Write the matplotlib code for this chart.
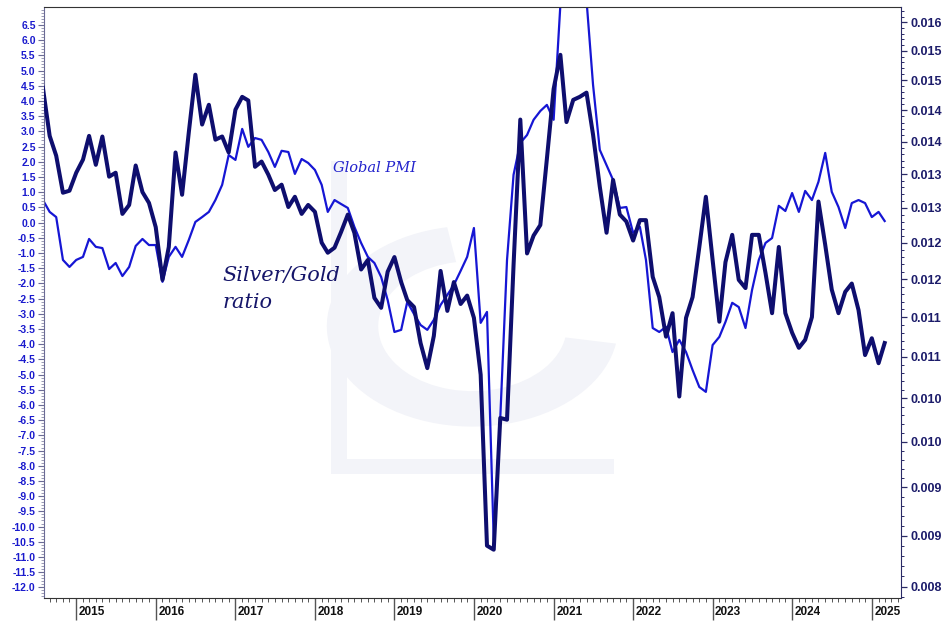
import matplotlib
matplotlib.use("Agg")
import matplotlib.pyplot as plt
import matplotlib.dates as mdates
import matplotlib.ticker as mticker
import matplotlib.transforms as mtransforms
import matplotlib.patches as mpatches
import numpy as np
import pandas as pd

plt.rcParams["font.family"] = ["Liberation Sans", "DejaVu Sans"]
plt.rcParams["font.weight"] = "bold"

# monthly observations, Aug 2014 .. Mar 2025
months = pd.date_range("2014-08-01", "2025-03-01", freq="MS")

global_pmi = [
    0.74, 0.35, 0.18, -1.23, -1.46, -1.23, -1.13, -0.54, -0.80, -0.84,
    -1.53, -1.33, -1.76, -1.46, -0.77, -0.54, -0.74, -0.74, -1.95, -1.13,
    -0.80, -1.13, -0.57, 0.02, 0.18, 0.35, 0.74, 1.24, 2.22, 2.06,
    3.08, 2.49, 2.78, 2.72, 2.32, 1.83, 2.36, 2.32, 1.60, 2.09,
    1.96, 1.73, 1.24, 0.35, 0.74, 0.61, 0.48, -0.14, -0.67, -1.13,
    -1.33, -1.79, -2.55, -3.60, -3.53, -2.61, -3.01, -3.37, -3.53, -3.20,
    -2.71, -2.38, -2.05, -1.59, -1.13, -0.18, -3.30, -2.94, -10.44, -6.43,
    -1.23, 1.57, 2.62, 2.88, 3.38, 3.67, 3.87, 3.38, 7.16, 8.31,
    8.80, 8.31, 7.32, 4.53, 2.39, 1.89, 1.40, 0.48, 0.51, -0.34,
    -0.14, -1.23, -3.47, -3.60, -3.43, -4.26, -3.86, -4.26, -4.85, -5.41,
    -5.57, -4.03, -3.76, -3.27, -2.64, -2.78, -3.47, -2.22, -1.23, -0.67,
    -0.51, 0.55, 0.38, 0.97, 0.35, 1.04, 0.74, 1.34, 2.29, 1.01,
    0.51, -0.18, 0.64, 0.74, 0.64, 0.18, 0.35, 0.05,
]

silver_gold = [
    0.01487, 0.01409, 0.01378, 0.01322, 0.01325, 0.01352, 0.01372, 0.01409, 0.01364, 0.01408,
    0.01346, 0.01352, 0.01291, 0.01304, 0.01363, 0.01323, 0.01307, 0.01272, 0.01199, 0.01244,
    0.01383, 0.01319, 0.01415, 0.01509, 0.01427, 0.01459, 0.01403, 0.01408, 0.01383, 0.01451,
    0.01472, 0.01466, 0.01361, 0.01369, 0.01349, 0.01326, 0.01334, 0.01301, 0.01316, 0.01291,
    0.01304, 0.01294, 0.01250, 0.01236, 0.01243, 0.01265, 0.01290, 0.01264, 0.01213, 0.01226,
    0.01175, 0.01162, 0.01210, 0.01230, 0.01196, 0.01172, 0.01163, 0.01117, 0.01086, 0.01126,
    0.01211, 0.01158, 0.01196, 0.01167, 0.01178, 0.01149, 0.01078, 0.00890, 0.00886, 0.01027,
    0.01025, 0.01219, 0.01435, 0.01235, 0.01260, 0.01275, 0.01373, 0.01485, 0.01543, 0.01431,
    0.01467, 0.01472, 0.01479, 0.01411, 0.01331, 0.01264, 0.01341, 0.01290, 0.01280, 0.01253,
    0.01282, 0.01282, 0.01203, 0.01176, 0.01125, 0.01155, 0.01052, 0.01149, 0.01176, 0.01244,
    0.01316, 0.01226, 0.01144, 0.01223, 0.01261, 0.01199, 0.01188, 0.01261, 0.01261, 0.01208,
    0.01155, 0.01244, 0.01155, 0.01130, 0.01111, 0.01121, 0.01150, 0.01309, 0.01247, 0.01186,
    0.01155, 0.01183, 0.01194, 0.01159, 0.01102, 0.01123, 0.01092, 0.01117,
]

years = list(range(2015, 2026))
year_labels = [str(y) for y in years]
left_ticks = np.arange(-12.0, 6.51, 0.5)
right_ticks = np.arange(0.0085, 0.01601, 0.0005)

fig = plt.figure(figsize=(9.49, 6.21), dpi=100)
ax = fig.add_axes([44 / 949, 23 / 621, 857 / 949, 591 / 621])
ax2 = ax.twinx()

# very faint logo watermark behind the lines
wm = "#f3f4f9"
ax.add_patch(mpatches.Wedge((0.50, 0.46), 0.17, 100, 350, width=0.06, transform=ax.transAxes,
                            facecolor=wm, edgecolor="none", zorder=0))
ax.add_patch(mpatches.Rectangle((0.335, 0.21), 0.018, 0.53, transform=ax.transAxes,
                                facecolor=wm, edgecolor="none", zorder=0))
ax.add_patch(mpatches.Rectangle((0.335, 0.21), 0.33, 0.025, transform=ax.transAxes,
                                facecolor=wm, edgecolor="none", zorder=0))

ax.plot(months, global_pmi, color="#1616d4", lw=1.6)
ax2.plot(months, silver_gold, color="#0e0e6e", lw=2.9)

ax.set_xlim(pd.Timestamp("2014-08-06"), pd.Timestamp("2025-05-15"))
ax.set_ylim(-12.35, 7.09)
ax2.set_yscale("log")
ax2.set_ylim(0.008393, 0.01628)

# left axis (PMI)
ax.yaxis.set_major_locator(mticker.FixedLocator(left_ticks))
ax.yaxis.set_major_formatter(mticker.FormatStrFormatter("%.1f"))
ax.yaxis.set_minor_locator(mticker.MultipleLocator(0.1))
ax.tick_params(axis="y", which="major", length=4.5, width=0.8, color="#6b6b95",
               labelsize=7.5, labelcolor="#1a1acd", pad=1.5)
ax.tick_params(axis="y", which="minor", length=2.2, width=0.6, color="#8a8aa8")

# right axis (silver/gold, log)
def trunc3(v, pos):
    return f"{np.floor(v * 1000 + 1e-6) / 1000:.3f}"

ax2.yaxis.set_major_locator(mticker.FixedLocator(right_ticks))
ax2.yaxis.set_major_formatter(mticker.FuncFormatter(trunc3))
ax2.yaxis.set_minor_locator(mticker.FixedLocator(np.arange(0.0084, 0.01625, 0.0001)))
ax2.yaxis.set_minor_formatter(mticker.NullFormatter())
ax2.tick_params(axis="y", which="major", length=4.5, width=0.9, color="#2a2a66",
                labelsize=9, labelcolor="#1c1c6a", pad=2)
ax2.tick_params(axis="y", which="minor", length=2.5, width=0.7, color="#2a2a66")

# x axis: long year ticks, monthly minor ticks, labels to the right of the tick
ax.xaxis.set_major_locator(mdates.YearLocator())
ax.xaxis.set_major_formatter(mticker.NullFormatter())
ax.xaxis.set_minor_locator(mdates.MonthLocator())
ax.tick_params(axis="x", which="major", length=16, width=1.0, color="#555555")
ax.tick_params(axis="x", which="minor", length=3, width=0.7, color="#555555")

lab_tr = mtransforms.offset_copy(ax.get_xaxis_transform(), fig=fig, x=2.5, y=-14, units="dots")
for y, lab in zip(years, year_labels):
    ax.text(pd.Timestamp(f"{y}-01-01"), 0, lab, transform=lab_tr, ha="left", va="center",
            fontsize=8.5, fontweight="bold", color="#111111")

for side in ["top", "bottom"]:
    ax.spines[side].set_color("#333333")
    ax2.spines[side].set_visible(False)
ax.spines["left"].set_color("#6b6b95")
ax2.spines["left"].set_visible(False)
ax.spines["right"].set_visible(False)
ax2.spines["right"].set_color("#2a2a66")

ax.text(0.3376, 0.7276, "Global PMI", transform=ax.transAxes, fontsize=10.5,
        family="DejaVu Serif", style="italic", fontweight="normal", color="#2222cc",
        ha="left", va="center")
ax.text(0.208, 0.545, "Silver/Gold", transform=ax.transAxes, fontsize=15,
        family="DejaVu Serif", style="italic", fontweight="normal", color="#16166a",
        ha="left", va="center")
ax.text(0.208, 0.500, "ratio", transform=ax.transAxes, fontsize=15,
        family="DejaVu Serif", style="italic", fontweight="normal", color="#16166a",
        ha="left", va="center")

fig.savefig("out.png", dpi=100)
